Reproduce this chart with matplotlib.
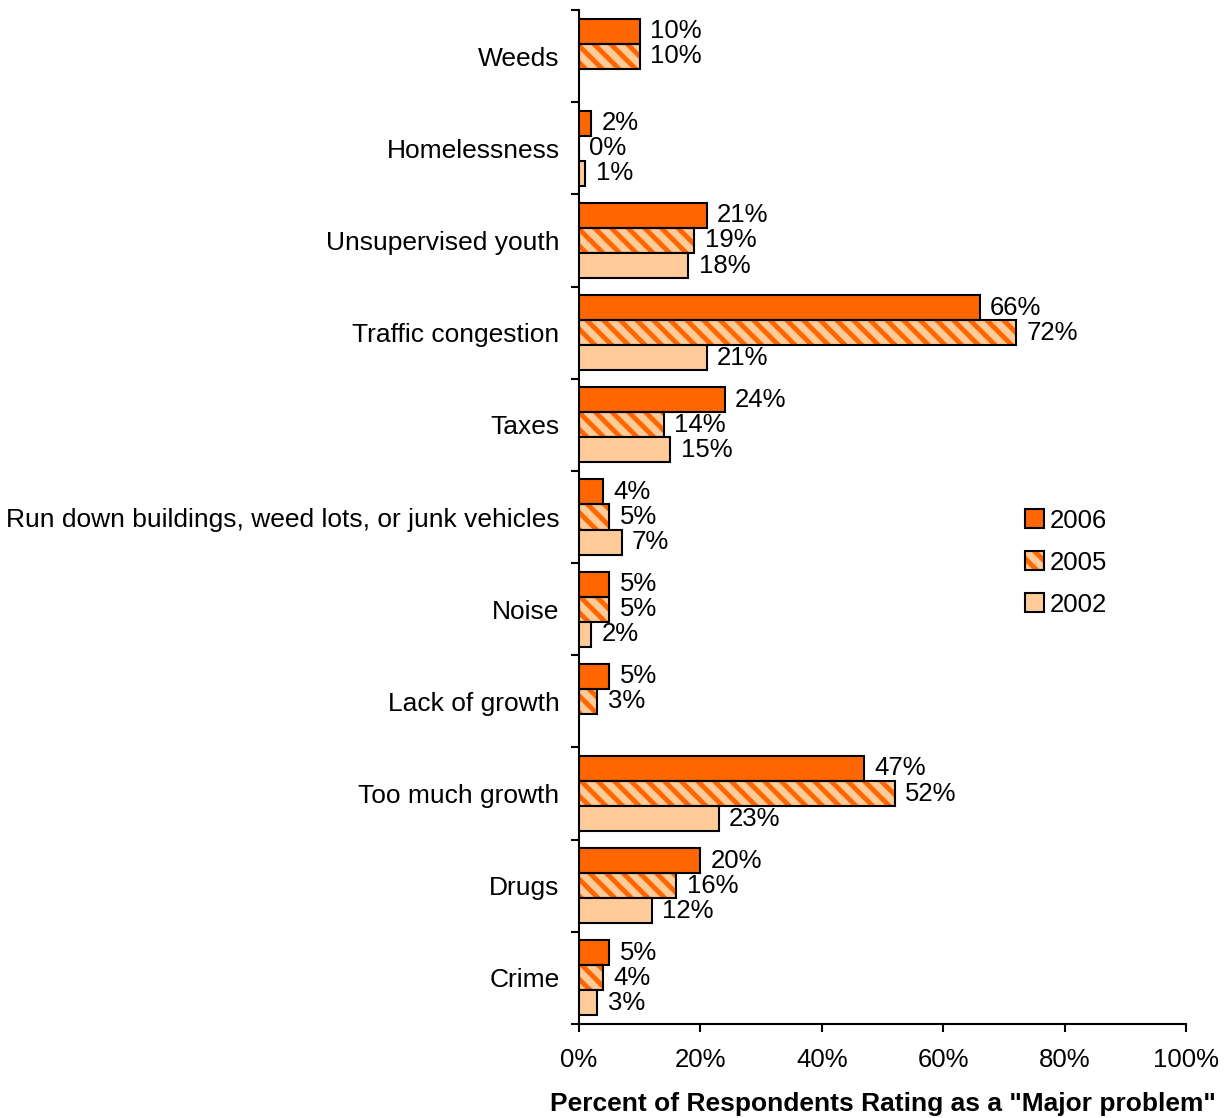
import numpy as np
import matplotlib.pyplot as plt
from matplotlib.patches import Patch

plt.rcParams['font.family'] = ['Liberation Sans', 'DejaVu Sans']
plt.rcParams['hatch.linewidth'] = 3.5

# categories listed bottom to top
categories = ["Crime", "Drugs", "Too much growth", "Lack of growth", "Noise",
              "Run down buildings, weed lots, or junk vehicles", "Taxes",
              "Traffic congestion", "Unsupervised youth", "Homelessness", "Weeds"]
vals_2006 = [5, 20, 47, 5, 5, 4, 24, 66, 21, 2, 10]
vals_2005 = [4, 16, 52, 3, 5, 5, 14, 72, 19, 0, 10]
vals_2002 = [3, 12, 23, None, 2, 7, 15, 21, 18, 1, None]

orange = "#FF6600"
peach = "#FFCC99"

fig = plt.figure(figsize=(12.31, 11.18), dpi=100)
ax = fig.add_axes([0.4704, 0.0841, 0.4930, 0.9069])

y = np.arange(len(categories))
h = 0.272

def draw(vals, offset, face, hatch=None):
    for yi, v in zip(y, vals):
        if v is None:
            continue
        if hatch:
            ax.barh(yi + offset, v, height=h, color=face, edgecolor=orange,
                    hatch=hatch, linewidth=0, zorder=2)
            ax.barh(yi + offset, v, height=h, fill=False, edgecolor="black",
                    linewidth=1.5, zorder=3)
        else:
            ax.barh(yi + offset, v, height=h, color=face, edgecolor="black",
                    linewidth=1.5, zorder=3)
        ax.annotate(f"{v}%", (v, yi + offset), xytext=(7.5, 0),
                    textcoords="offset points", va="center", ha="left",
                    fontsize=18.5)

draw(vals_2006, h, orange)
draw(vals_2005, 0, peach, hatch="\\\\")
draw(vals_2002, -h, peach)

ax.set_xlim(0, 100)
ax.set_ylim(-0.5, len(categories) - 0.5)

ax.set_xticks(np.arange(0, 101, 20))
ax.set_xticklabels([f"{t}%" for t in range(0, 101, 20)], fontsize=18.5)
ax.tick_params(axis="x", direction="out", length=6, width=1.5, pad=11)

ax.set_yticks(np.arange(len(categories) + 1) - 0.5)
ax.set_yticklabels([])
ax.set_yticks(y, minor=True)
ax.set_yticklabels(categories, minor=True, fontsize=19)
ax.tick_params(axis="y", which="major", direction="out", length=6, width=1.5)
ax.tick_params(axis="y", which="minor", length=0, pad=14)

for s in ["top", "right"]:
    ax.spines[s].set_visible(False)
for s in ["left", "bottom"]:
    ax.spines[s].set_linewidth(1.5)

ax.set_xlabel('Percent of Respondents Rating as a "Major problem"',
              fontsize=19, fontweight="bold", labelpad=15)

h2006 = Patch(facecolor=orange, edgecolor="black", linewidth=1.5)
h2005 = (Patch(facecolor=peach, edgecolor=orange, hatch="\\\\", linewidth=0),
         Patch(fill=False, edgecolor="black", linewidth=1.5))
h2002 = Patch(facecolor=peach, edgecolor="black", linewidth=1.5)
ax.legend([h2006, h2005, h2002], ["2006", "2005", "2002"], loc="center left",
          bbox_to_anchor=(0.697, 0.455), frameon=False, fontsize=18.5,
          handlelength=0.75, handleheight=0.75, handletextpad=0.2,
          labelspacing=0.7)

fig.savefig("out.png", dpi=100)
